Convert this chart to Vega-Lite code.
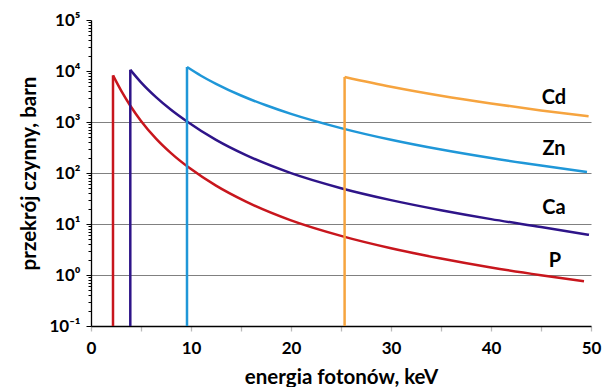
{
  "$schema": "https://vega.github.io/schema/vega-lite/v6.json",
  "width": 500,
  "height": 306,
  "autosize": {"type": "none"},
  "padding": {"left": 91, "top": 20, "right": 17, "bottom": 61},
  "background": "white",
  "config": {
    "view": {"stroke": null},
    "font": "Lato",
    "axis": {"labelFont": "Lato", "titleFont": "Lato"}
  },
  "datasets": {
    "curves": [
      {"element": "P", "E": 2.2, "sigma": 8200},
      {"element": "P", "E": 3.0, "sigma": 4165},
      {"element": "P", "E": 3.93, "sigma": 2087},
      {"element": "P", "E": 5.0, "sigma": 1051},
      {"element": "P", "E": 6.5, "sigma": 473},
      {"element": "P", "E": 8.0, "sigma": 246},
      {"element": "P", "E": 9.93, "sigma": 122},
      {"element": "P", "E": 12.5, "sigma": 56.4},
      {"element": "P", "E": 15.5, "sigma": 27.4},
      {"element": "P", "E": 19.93, "sigma": 11.9},
      {"element": "P", "E": 25, "sigma": 5.84},
      {"element": "P", "E": 30, "sigma": 3.34},
      {"element": "P", "E": 35, "sigma": 2.1},
      {"element": "P", "E": 40, "sigma": 1.4},
      {"element": "P", "E": 45, "sigma": 0.99},
      {"element": "P", "E": 49.3, "sigma": 0.755},
      {"element": "Ca", "E": 3.93, "sigma": 10557},
      {"element": "Ca", "E": 5.0, "sigma": 6003},
      {"element": "Ca", "E": 6.5, "sigma": 3077},
      {"element": "Ca", "E": 8.0, "sigma": 1735},
      {"element": "Ca", "E": 9.6, "sigma": 1023},
      {"element": "Ca", "E": 12.5, "sigma": 446},
      {"element": "Ca", "E": 15.5, "sigma": 224},
      {"element": "Ca", "E": 19.93, "sigma": 100.5},
      {"element": "Ca", "E": 25, "sigma": 50.4},
      {"element": "Ca", "E": 30, "sigma": 29.4},
      {"element": "Ca", "E": 35, "sigma": 18.65},
      {"element": "Ca", "E": 40, "sigma": 12.47},
      {"element": "Ca", "E": 45, "sigma": 8.73},
      {"element": "Ca", "E": 49.8, "sigma": 6.14},
      {"element": "Zn", "E": 9.6, "sigma": 11979},
      {"element": "Zn", "E": 11, "sigma": 8086},
      {"element": "Zn", "E": 12.5, "sigma": 5610},
      {"element": "Zn", "E": 15, "sigma": 3308},
      {"element": "Zn", "E": 17.5, "sigma": 2126},
      {"element": "Zn", "E": 20, "sigma": 1441},
      {"element": "Zn", "E": 25, "sigma": 759},
      {"element": "Zn", "E": 30, "sigma": 448},
      {"element": "Zn", "E": 35, "sigma": 287.6},
      {"element": "Zn", "E": 40, "sigma": 196},
      {"element": "Zn", "E": 45, "sigma": 139.7},
      {"element": "Zn", "E": 49.6, "sigma": 105.1},
      {"element": "Cd", "E": 25.36, "sigma": 7628},
      {"element": "Cd", "E": 30, "sigma": 4900},
      {"element": "Cd", "E": 35, "sigma": 3264},
      {"element": "Cd", "E": 40, "sigma": 2305},
      {"element": "Cd", "E": 45, "sigma": 1689},
      {"element": "Cd", "E": 49.76, "sigma": 1299}
    ],
    "labels": [
      {"element": "Cd", "E": 46.3, "sigma": 2900},
      {"element": "Zn", "E": 46.3, "sigma": 300},
      {"element": "Ca", "E": 46.3, "sigma": 21},
      {"element": "P", "E": 46.4, "sigma": 1.9}
    ]
  },
  "layer": [
    {
      "data": {"name": "curves"},
      "mark": {"type": "line", "interpolate": "monotone", "strokeWidth": 2.5},
      "encoding": {
        "x": {
          "field": "E", "type": "quantitative",
          "scale": {"domain": [0, 50], "nice": false},
          "axis": {
            "title": "energia fotonów, keV",
            "titleFontSize": 20.5, "titleFontWeight": "bold", "titleColor": "black",
            "titlePadding": 11,
            "values": [0, 5, 10, 15, 20, 25, 30, 35, 40, 45, 50],
            "labelExpr": "datum.value % 10 === 0 ? datum.label : ''",
            "labelFontSize": 17, "labelFontWeight": "bold", "labelColor": "black",
            "labelPadding": 9, "labelOverlap": false, "labelFlush": false,
            "grid": false,
            "domainColor": "black", "domainWidth": 1.3,
            "tickColor": "#bbbbbb", "tickSize": 5, "tickWidth": 1.3
          }
        },
        "y": {
          "field": "sigma", "type": "quantitative",
          "scale": {"type": "log", "domain": [0.1, 100000], "nice": false},
          "axis": {
            "title": "przekrój czynny, barn",
            "titleFontSize": 20.5, "titleFontWeight": "bold", "titleColor": "black",
            "titlePadding": 9,
            "values": [0.1, 0.2, 0.3, 0.4, 0.5, 0.6, 0.7, 0.8, 0.9, 1, 2, 3, 4, 5, 6, 7, 8, 9, 10, 20, 30, 40, 50, 60, 70, 80, 90, 100, 200, 300, 400, 500, 600, 700, 800, 900, 1000, 2000, 3000, 4000, 5000, 6000, 7000, 8000, 9000, 10000, 20000, 30000, 40000, 50000, 60000, 70000, 80000, 90000, 100000],
            "labelExpr": "datum.value == 100000 ? '10⁵' : datum.value == 10000 ? '10⁴' : datum.value == 1000 ? '10³' : datum.value == 100 ? '10²' : datum.value == 10 ? '10¹' : datum.value == 1 ? '10⁰' : datum.value == 0.1 ? '10⁻¹' : ''",
            "labelFontSize": 17, "labelFontWeight": "bold", "labelColor": "black",
            "labelPadding": 6, "labelOverlap": false, "labelFlush": false,
            "grid": true, "gridColor": "#808080", "gridWidth": 1.2,
            "gridOpacity": {"condition": {"test": "datum.value == 1 || datum.value == 10 || datum.value == 100 || datum.value == 1000", "value": 1}, "value": 0},
            "domainColor": "black", "domainWidth": 1.3,
            "tickColor": "black", "tickWidth": 1,
            "tickSize": {"condition": {"test": "datum.value == 0.1 || datum.value == 1 || datum.value == 10 || datum.value == 100 || datum.value == 1000 || datum.value == 10000 || datum.value == 100000", "value": 5}, "value": 3}
          }
        },
        "color": {
          "field": "element", "type": "nominal",
          "scale": {"domain": ["P", "Ca", "Zn", "Cd"], "range": ["#c8161d", "#2e1489", "#1f97d8", "#f6a43f"]},
          "legend": null
        },
        "order": {"field": "E", "type": "quantitative"}
      }
    },
    {
      "data": {"name": "curves"},
      "transform": [
        {"window": [{"op": "rank", "as": "rk"}], "sort": [{"field": "E", "order": "ascending"}], "groupby": ["element"]},
        {"filter": "datum.rk == 1"}
      ],
      "mark": {"type": "rule", "strokeWidth": 2.5},
      "encoding": {
        "x": {"field": "E", "type": "quantitative"},
        "y": {"field": "sigma", "type": "quantitative"},
        "y2": {"datum": 0.1},
        "color": {"field": "element", "type": "nominal", "legend": null}
      }
    },
    {
      "mark": {"type": "rule", "color": "#404040", "strokeWidth": 1.3},
      "encoding": {
        "x": {"datum": 50},
        "y": {"datum": 0.1},
        "y2": {"datum": 100000}
      }
    },
    {
      "data": {"name": "labels"},
      "mark": {"type": "text", "font": "Lato", "fontWeight": "bold", "fontSize": 20, "color": "black", "align": "center", "baseline": "middle"},
      "encoding": {
        "x": {"field": "E", "type": "quantitative"},
        "y": {"field": "sigma", "type": "quantitative"},
        "text": {"field": "element"}
      }
    }
  ]
}
